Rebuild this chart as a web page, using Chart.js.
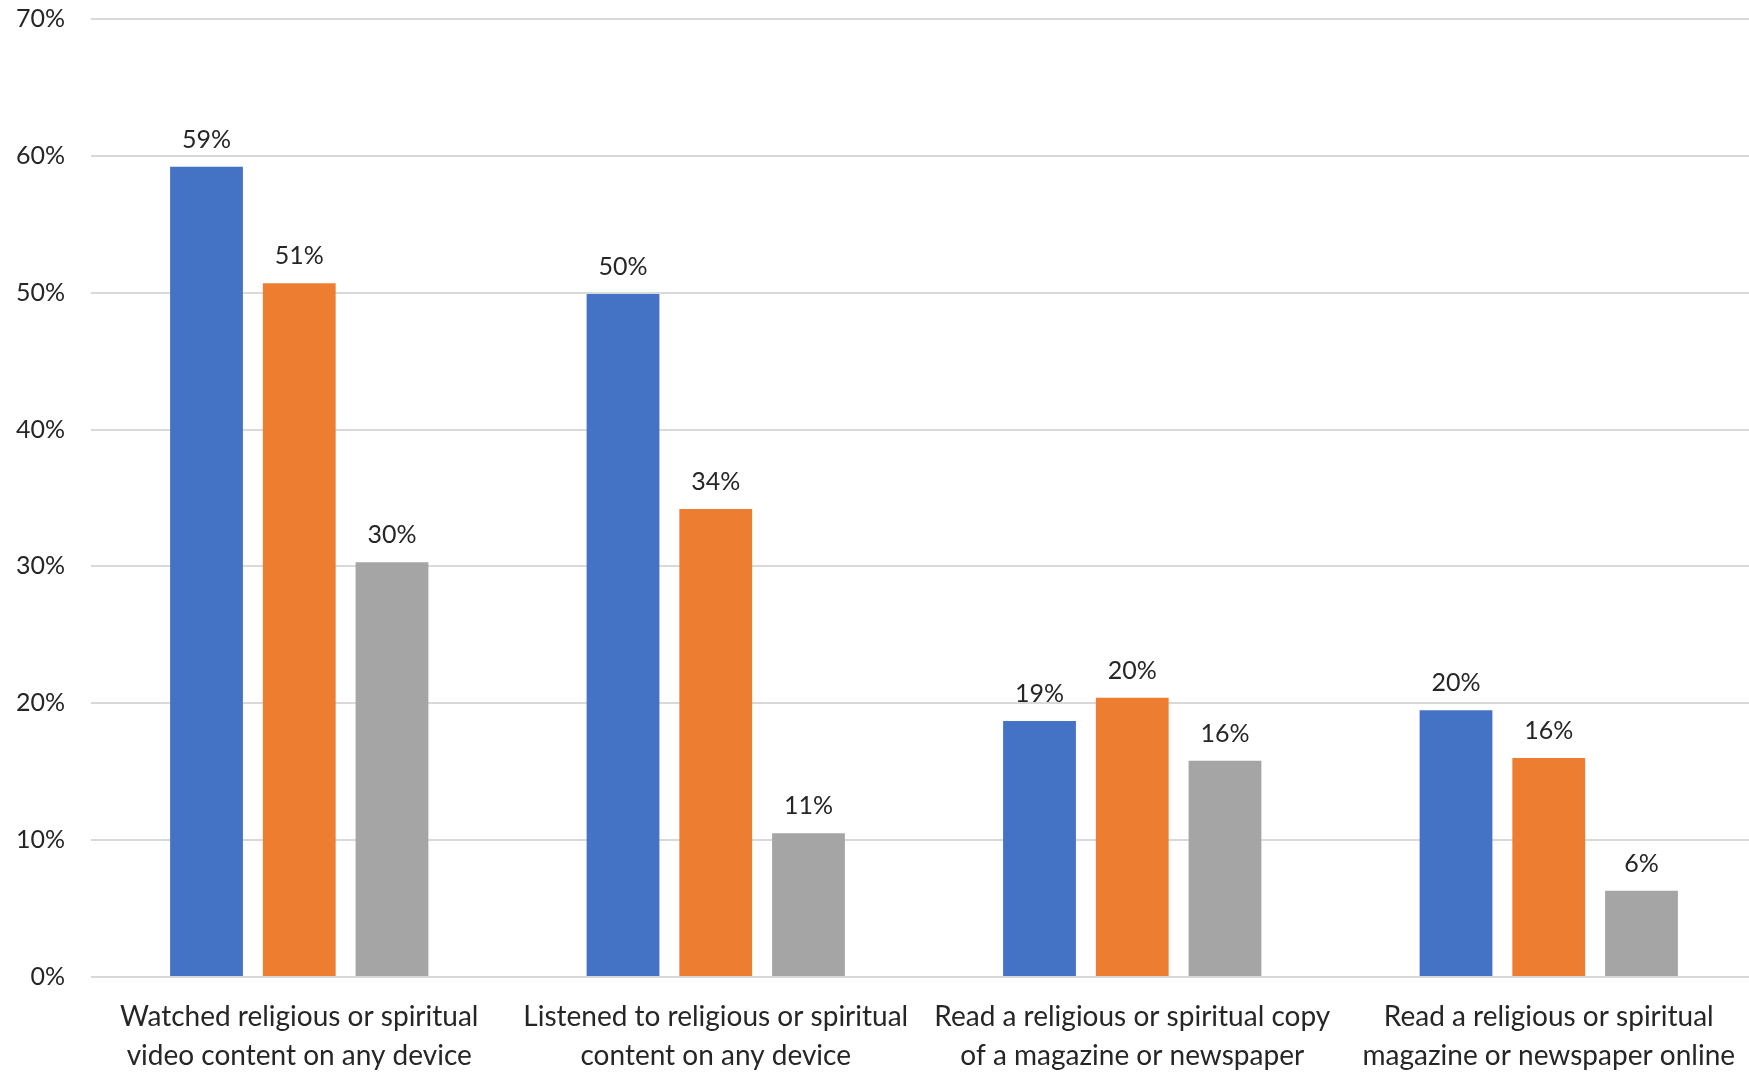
<!DOCTYPE html>
<html>
<head>
<meta charset="utf-8">
<script src="https://cdn.jsdelivr.net/npm/chart.js@4/dist/chart.umd.min.js"></script>
<style>
  html, body { margin: 0; padding: 0; background: #ffffff; }
  #wrap { width: 1749px; height: 1074px; position: relative; }
</style>
</head>
<body>
<div id="wrap"><canvas id="chart"></canvas></div>
<script>
// Activity categories (two-line axis labels)
const categories = [
  ['Watched religious or spiritual', 'video content on any device'],
  ['Listened to religious or spiritual', 'content on any device'],
  ['Read a religious or spiritual copy', 'of a magazine or newspaper'],
  ['Read a religious or spiritual', 'magazine or newspaper online']
];

// Share of respondents, percent
const seriesBlue   = [59.2, 49.9, 18.7, 19.5];
const seriesOrange = [50.7, 34.2, 20.4, 16.0];
const seriesGray   = [30.3, 10.5, 15.8, 6.3];

const seriesNames = ['Series 1', 'Series 2', 'Series 3'];

// Y axis range and step, percent
const yMin = 0;
const yMax = 70;
const yStep = 10;

const FONT = 'Lato, "Open Sans", sans-serif';
const TEXT = '#262626';

// Writes each bar's value above it
const valueLabels = {
  id: 'valueLabels',
  afterDatasetsDraw(chart) {
    const ctx = chart.ctx;
    ctx.save();
    ctx.font = '25px ' + FONT;
    ctx.fillStyle = TEXT;
    ctx.textAlign = 'center';
    ctx.textBaseline = 'alphabetic';
    chart.data.datasets.forEach((ds, i) => {
      const meta = chart.getDatasetMeta(i);
      meta.data.forEach((bar, j) => {
        ctx.fillText(Math.round(ds.data[j]) + '%', bar.x, bar.y - 19);
      });
    });
    ctx.restore();
  }
};

// Lets the plot area run a little past the right edge of the canvas
const bleedRight = {
  id: 'bleedRight',
  afterLayout(chart) {
    const extra = 8;
    const area = chart.chartArea;
    area.right += extra;
    area.width += extra;
    const xs = chart.scales.x;
    xs.right += extra;
    xs.width += extra;
    xs.configure();
  }
};

new Chart(document.getElementById('chart'), {
  type: 'bar',
  data: {
    labels: categories,
    datasets: [
      { label: seriesNames[0], data: seriesBlue,   backgroundColor: '#4472C4' },
      { label: seriesNames[1], data: seriesOrange, backgroundColor: '#ED7D31' },
      { label: seriesNames[2], data: seriesGray,   backgroundColor: '#A5A5A5' }
    ]
  },
  options: {
    responsive: true,
    maintainAspectRatio: false,
    animation: false,
    layout: { padding: { top: 19, right: 0, bottom: 0, left: 0 } },
    datasets: {
      bar: { categoryPercentage: 0.668, barPercentage: 0.785 }
    },
    plugins: {
      legend: { display: false },
      tooltip: { enabled: false }
    },
    scales: {
      x: {
        grid: { display: false, drawTicks: false },
        border: { display: false },
        ticks: {
          color: TEXT,
          font: { family: FONT, size: 28, lineHeight: 1.38 },
          padding: 21,
          maxRotation: 0,
          autoSkip: false
        },
        afterFit(axis) {
          axis.height = 97;
          axis.paddingLeft = 0;
          axis.paddingRight = 0;
        }
      },
      y: {
        min: yMin,
        max: yMax,
        grid: { color: '#D9D9D9', lineWidth: 2, drawTicks: false },
        border: { display: false },
        ticks: {
          stepSize: yStep,
          color: TEXT,
          font: { family: FONT, size: 25 },
          padding: 26,
          callback: v => v + '%'
        },
        afterFit(axis) {
          axis.width = 91;
          axis.paddingTop = 0;
          axis.paddingBottom = 0;
        }
      }
    }
  },
  plugins: [bleedRight, valueLabels]
});
</script>
</body>
</html>
